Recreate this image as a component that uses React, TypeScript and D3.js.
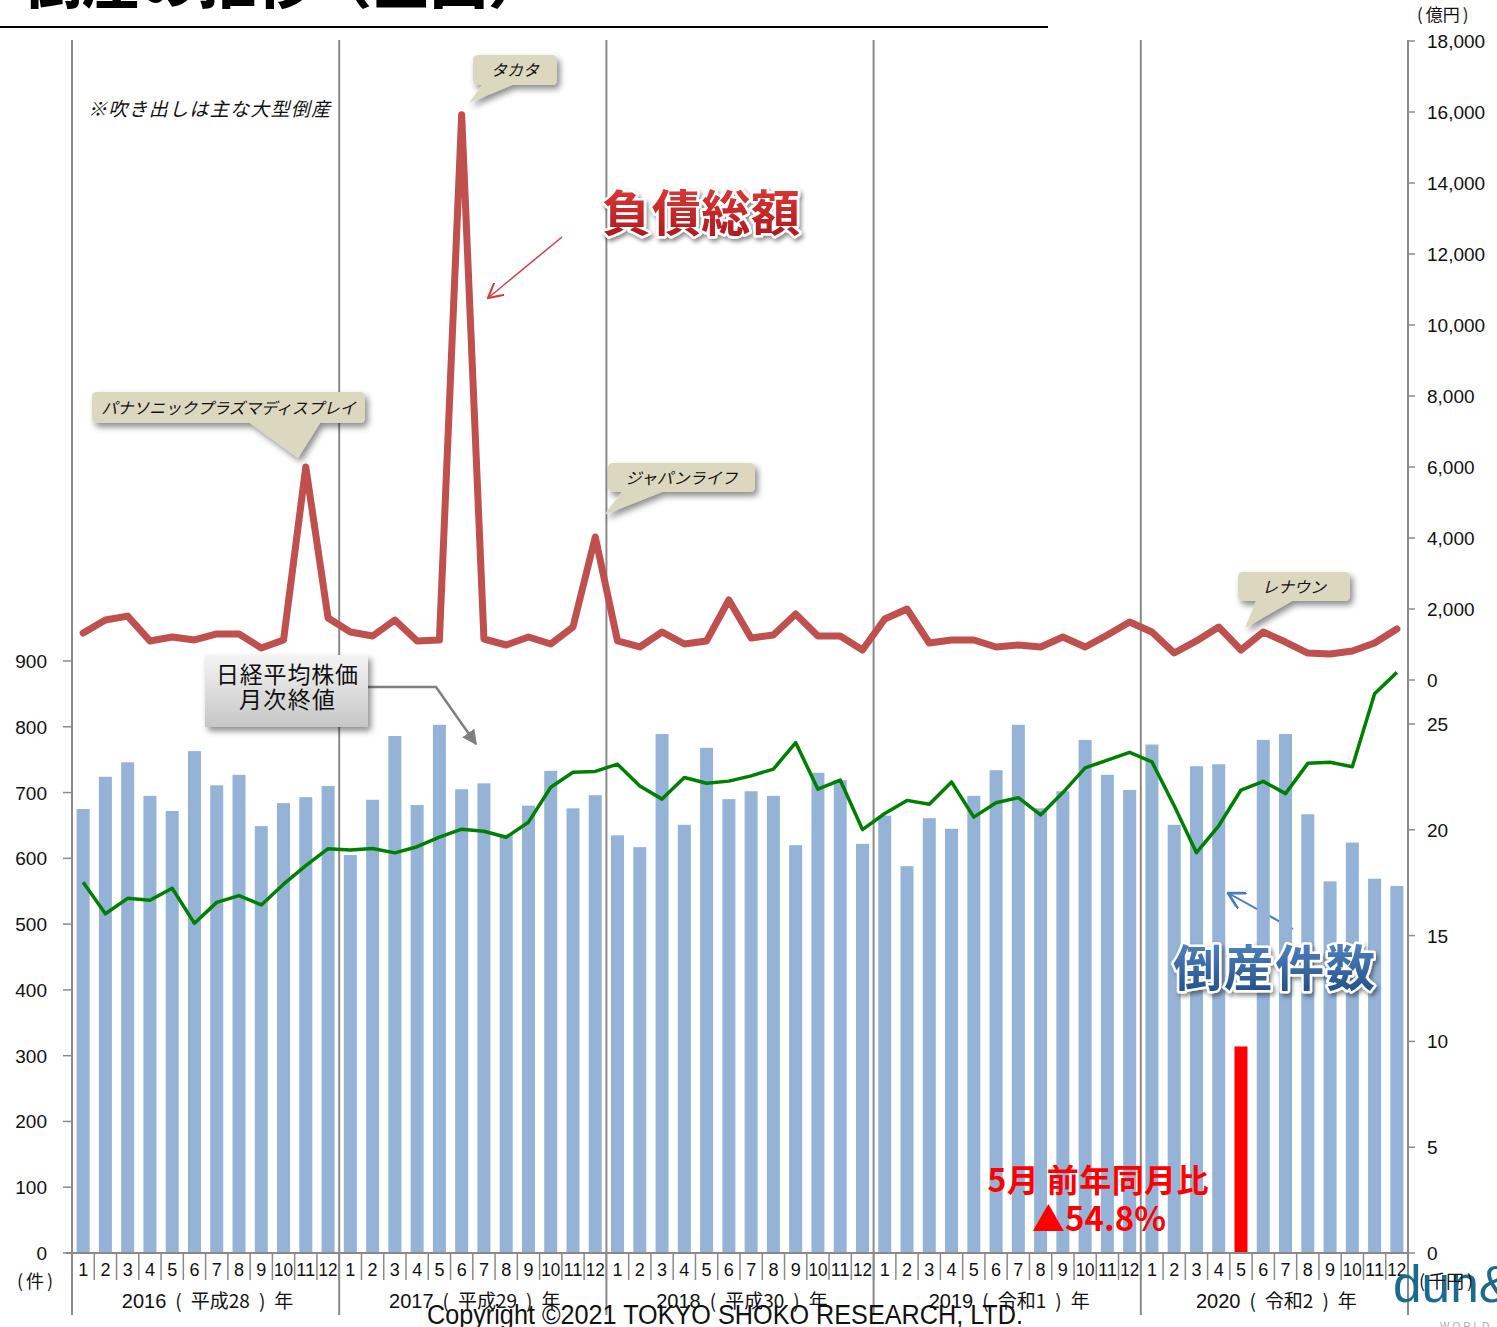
import React from "react";
import * as d3 from "d3";

// Monthly bankruptcy counts (件), 2016–2020
const counts2016 = [675, 724, 746, 695, 672, 763, 711, 727, 649, 684, 693, 710];
const counts2017 = [605, 689, 786, 681, 803, 705, 714, 636, 680, 733, 676, 696];
const counts2018 = [635, 617, 789, 651, 768, 690, 702, 695, 620, 730, 719, 622];
const counts2019 = [665, 588, 661, 645, 695, 734, 803, 676, 702, 780, 727, 704];
const counts2020 = [773, 651, 740, 743, 314, 780, 789, 667, 565, 624, 569, 558];

// Total liabilities (億円)
const debt2016 = [1324, 1690, 1800, 1100, 1211, 1127, 1296, 1296, 900, 1127, 6000, 1746];
const debt2017 = [1352, 1240, 1690, 1100, 1127, 15920, 1155, 986, 1211, 1014, 1493, 4028];
const debt2018 = [1100, 930, 1352, 1014, 1100, 2254, 1183, 1268, 1859, 1240, 1240, 845];
const debt2019 = [1718, 2000, 1042, 1127, 1127, 930, 986, 930, 1211, 930, 1268, 1634];
const debt2020 = [1352, 760, 1100, 1493, 845, 1352, 1070, 760, 732, 817, 1042, 1437];

// Nikkei 225 month-end close (千円)
const nikkei2016 = [17.52, 16.03, 16.76, 16.67, 17.24, 15.58, 16.57, 16.89, 16.45, 17.43, 18.31, 19.11];
const nikkei2017 = [19.04, 19.12, 18.91, 19.2, 19.65, 20.03, 19.93, 19.65, 20.36, 22.01, 22.72, 22.76];
const nikkei2018 = [23.1, 22.07, 21.45, 22.47, 22.2, 22.3, 22.55, 22.87, 24.12, 21.92, 22.35, 20.01];
const nikkei2019 = [20.77, 21.39, 21.21, 22.26, 20.6, 21.28, 21.52, 20.7, 21.76, 22.93, 23.29, 23.66];
const nikkei2020 = [23.21, 21.14, 18.92, 20.19, 21.88, 22.29, 21.71, 23.14, 23.19, 22.98, 26.43, 27.44];

// Year captions: western year and era name
const yearNumbers = ["2016", "2017", "2018", "2019", "2020"];
const eraNames = ["平成28", "平成29", "平成30", "令和1", "令和2"];
const monthLabels = ["1", "2", "3", "4", "5", "6", "7", "8", "9", "10", "11", "12"];

const countTicks = [0, 100, 200, 300, 400, 500, 600, 700, 800, 900];
const debtTicks = [0, 2000, 4000, 6000, 8000, 10000, 12000, 14000, 16000, 18000];
const nikkeiTicks = [0, 5, 10, 15, 20, 25];

const callouts = [
  { label: "パナソニックプラズマディスプレイ" },
  { label: "タカタ" },
  { label: "ジャパンライフ" },
  { label: "レナウン" },
];

const counts = [...counts2016, ...counts2017, ...counts2018, ...counts2019, ...counts2020];
const debt = [...debt2016, ...debt2017, ...debt2018, ...debt2019, ...debt2020];
const nikkei = [...nikkei2016, ...nikkei2017, ...nikkei2018, ...nikkei2019, ...nikkei2020];
const idx = counts.map((_, i) => i);

const W = 1497;
const H = 1327;
const L = 72;
const R = 1408;
const BASE = 1253;

const x = d3.scaleBand<number>().domain(idx).range([L, R]).paddingInner(0.416).paddingOuter(0.208);
const step = x.step();
const cx = (i: number) => (x(i) as number) + x.bandwidth() / 2;
const yCount = d3.scaleLinear().domain([0, 900]).range([BASE, 661]);
const yDebt = d3.scaleLinear().domain([0, 18000]).range([680, 41]);
const yNikkei = d3.scaleLinear().domain([0, 25]).range([BASE, 724]);

const debtLine = d3.line<number>().x((_, i) => cx(i)).y((d) => yDebt(d));
const nikkeiLine = d3.line<number>().x((_, i) => cx(i)).y((d) => yNikkei(d));

const jp = "'Noto Sans CJK JP', 'Noto Sans', sans-serif";
const sans = "'Liberation Sans', Arial, sans-serif";
const narrow = "'Liberation Sans Narrow', 'Liberation Sans', Arial, sans-serif";
const fmt = d3.format(",");

const yearX = (y: number) => L + step * 12 * y;

type Box = { x0: number; y0: number; x1: number; y1: number; b0: number; b1: number; tx: number; ty: number };

function Callout({ box, label }: { box: Box; label: string }) {
  const r = 5;
  const { x0, y0, x1, y1, b0, b1, tx, ty } = box;
  const d = `M${x0 + r},${y0} H${x1 - r} Q${x1},${y0} ${x1},${y0 + r} V${y1 - r} Q${x1},${y1} ${x1 - r},${y1} H${b1} L${tx},${ty} L${b0},${y1} H${x0 + r} Q${x0},${y1} ${x0},${y1 - r} V${y0 + r} Q${x0},${y0} ${x0 + r},${y0} Z`;
  return (
    <g>
      <path d={d} fill="#dcd8c0" filter="url(#shadow)" />
      <text
        x={(x0 + x1) / 2}
        y={(y0 + y1) / 2 + 6}
        textAnchor="middle"
        fontFamily={jp}
        fontStyle="italic"
        fontSize={16}
        fill="#111"
      >
        {label}
      </text>
    </g>
  );
}

// Parenthesised unit caption: "(" unit ")"
function Unit({ x0, y, unit, size }: { x0: number; y: number; unit: string; size: number }) {
  return (
    <text x={x0} y={y} fontFamily={jp} fontSize={size} fill="#111">
      <tspan>(</tspan>
      <tspan dx={3}>{unit}</tspan>
      <tspan dx={3}>)</tspan>
    </text>
  );
}

const boxes: Box[] = [
  { x0: 92, y0: 392, x1: 365, y1: 423, b0: 250, b1: 320, tx: 298, ty: 458 },
  { x0: 473, y0: 55, x1: 557, y1: 85, b0: 482, b1: 512, tx: 469, ty: 103 },
  { x0: 608, y0: 463, x1: 755, y1: 492, b0: 622, b1: 662, tx: 604, ty: 515 },
  { x0: 1238, y0: 572, x1: 1350, y1: 601, b0: 1256, b1: 1292, tx: 1245, ty: 628 },
];

export default function App() {
  return (
    <svg
      width={W}
      height={H}
      viewBox={`0 0 ${W} ${H}`}
      style={{ position: "absolute", left: 0, top: 0, background: "#fff" }}
    >
      <defs>
        <filter id="shadow" x="-20%" y="-20%" width="150%" height="170%">
          <feDropShadow dx="3" dy="4" stdDeviation="3" floodColor="#000" floodOpacity="0.45" />
        </filter>
        <filter id="textShadow" x="-10%" y="-20%" width="130%" height="160%">
          <feDropShadow dx="2" dy="3" stdDeviation="2" floodColor="#000" floodOpacity="0.45" />
        </filter>
        <linearGradient id="legendGrad" x1="0" y1="0" x2="0" y2="1">
          <stop offset="0" stopColor="#f4f4f4" />
          <stop offset="1" stopColor="#c6c6c6" />
        </linearGradient>
        <linearGradient id="redGrad" x1="0" y1="0" x2="0" y2="1">
          <stop offset="0" stopColor="#e8403c" />
          <stop offset="1" stopColor="#a8141a" />
        </linearGradient>
        <linearGradient id="blueGrad" x1="0" y1="0" x2="0" y2="1">
          <stop offset="0" stopColor="#5b8fce" />
          <stop offset="1" stopColor="#1d4a80" />
        </linearGradient>
        <marker id="grayHead" viewBox="0 0 10 10" refX="9" refY="5" markerWidth="6" markerHeight="6" orient="auto">
          <path d="M0,0 L10,5 L0,10 Z" fill="#7f7f7f" />
        </marker>
        <marker id="redHead" viewBox="0 0 12 12" refX="11" refY="6" markerWidth="16" markerHeight="16" markerUnits="userSpaceOnUse" orient="auto">
          <path d="M0,0 L11,6 L0,12" fill="none" stroke="#d04040" strokeWidth="1.6" />
        </marker>
        <marker id="blueHead" viewBox="0 0 12 12" refX="11" refY="6" markerWidth="18" markerHeight="18" markerUnits="userSpaceOnUse" orient="auto">
          <path d="M0,0 L11,6 L0,12" fill="none" stroke="#4a7ebb" strokeWidth="1.8" />
        </marker>
      </defs>

      {/* heading */}
      <text x={546} y={3} textAnchor="end" fontFamily={jp} fontWeight={900} fontSize={58} fill="#000">
        倒産の推移（全国）
      </text>
      <line x1={0} x2={1048} y1={27} y2={27} stroke="#000" strokeWidth={2} />

      {/* year separators */}
      {[0, 1, 2, 3, 4, 5].map((y) => (
        <line key={y} x1={yearX(y)} x2={yearX(y)} y1={40} y2={1315} stroke="#8a8a8a" strokeWidth={2} />
      ))}

      {/* arrow pointing at count bars (behind bars) */}
      <line x1={1293} y1={929} x2={1228} y2={893} stroke="#4a7ebb" strokeWidth={2} markerEnd="url(#blueHead)" />

      {/* bars */}
      {counts.map((v, i) => (
        <rect
          key={i}
          x={x(i)}
          y={yCount(v)}
          width={x.bandwidth()}
          height={BASE - yCount(v)}
          fill={i === 52 ? "#ff0000" : "#95b3d7"}
        />
      ))}

      {/* Nikkei line */}
      <path d={nikkeiLine(nikkei) || ""} fill="none" stroke="#008000" strokeWidth={3.5} strokeLinejoin="round" />

      {/* liabilities line */}
      <path d={debtLine(debt) || ""} fill="none" stroke="#c0504d" strokeWidth={7} strokeLinejoin="round" strokeLinecap="round" />

      {/* baseline and month ticks */}
      <line x1={66} x2={R} y1={BASE} y2={BASE} stroke="#8a8a8a" strokeWidth={2} />
      {d3.range(61).map((k) => (
        <line key={k} x1={L + step * k} x2={L + step * k} y1={BASE} y2={1280} stroke="#8a8a8a" strokeWidth={1.5} />
      ))}
      {idx.map((i) => (
        <text key={i} x={cx(i)} y={1276} textAnchor="middle" fontFamily={narrow} fontSize={18} fill="#111" textLength={i % 12 >= 9 ? 19 : undefined} lengthAdjust="spacingAndGlyphs">
          {monthLabels[i % 12]}
        </text>
      ))}
      {yearNumbers.map((yr, y) => (
        <text key={yr} x={yearX(y) + step * 6 + 2} y={1308} textAnchor="middle" fontFamily={jp} fontSize={19} fill="#111">
          <tspan fontFamily={narrow} fontSize={20}>{yr}</tspan>
          <tspan dx={9}>(</tspan>
          <tspan dx={9}>{eraNames[y]}</tspan>
          <tspan dx={9}>)</tspan>
          <tspan dx={9}>年</tspan>
        </text>
      ))}

      {/* left axis */}
      {countTicks.map((t) => (
        <g key={t}>
          <line x1={63} x2={L} y1={yCount(t)} y2={yCount(t)} stroke="#8a8a8a" strokeWidth={1.5} />
          <text x={47} y={yCount(t) + 7} textAnchor="end" fontFamily={sans} fontSize={19} fill="#111">
            {t}
          </text>
        </g>
      ))}
      <Unit x0={17} y={1288} unit="件" size={18} />

      {/* right axes */}
      {debtTicks.map((t) => (
        <g key={t}>
          <line x1={R} x2={R + 7} y1={yDebt(t)} y2={yDebt(t)} stroke="#8a8a8a" strokeWidth={1.5} />
          <text x={1427} y={yDebt(t) + 7} fontFamily={sans} fontSize={19} fill="#111">
            {fmt(t)}
          </text>
        </g>
      ))}
      {nikkeiTicks.map((t) => (
        <g key={t}>
          <line x1={R} x2={R + 7} y1={yNikkei(t)} y2={yNikkei(t)} stroke="#8a8a8a" strokeWidth={1.5} />
          <text x={1427} y={yNikkei(t) + 7} fontFamily={sans} fontSize={19} fill="#111">
            {t}
          </text>
        </g>
      ))}
      <Unit x0={1417} y={21} unit="億円" size={17} />

      {/* note */}
      <text x={88} y={116} fontFamily={jp} fontStyle="italic" fontSize={19} fill="#111" textLength={242} lengthAdjust="spacing">
        ※吹き出しは主な大型倒産
      </text>

      {/* callouts for major bankruptcies */}
      {callouts.map((c, i) => (
        <Callout key={c.label} box={boxes[i]} label={c.label} />
      ))}

      {/* Nikkei legend box */}
      <polyline points="368,687 436,687 476,744" fill="none" stroke="#7f7f7f" strokeWidth={2.5} markerEnd="url(#grayHead)" />
      <rect x={205} y={655} width={163} height={72} fill="url(#legendGrad)" filter="url(#shadow)" />
      <text x={287} y={683} textAnchor="middle" fontFamily={jp} fontSize={23} fill="#111" textLength={142} lengthAdjust="spacing">
        日経平均株価
      </text>
      <text x={287} y={708} textAnchor="middle" fontFamily={jp} fontSize={23} fill="#111" textLength={96} lengthAdjust="spacing">
        月次終値
      </text>

      {/* series titles */}
      <line x1={562} y1={237} x2={488} y2={298} stroke="#d04040" strokeWidth={1.5} markerEnd="url(#redHead)" />
      <text
        x={701}
        y={231}
        textAnchor="middle"
        fontFamily={jp}
        fontWeight={700}
        fontSize={49}
        fill="url(#redGrad)"
        stroke="#fff"
        strokeWidth={5}
        paintOrder="stroke"
        strokeLinejoin="round"
        filter="url(#textShadow)"
        textLength={198}
        lengthAdjust="spacing"
      >
        負債総額
      </text>
      <text
        x={1274}
        y={986}
        textAnchor="middle"
        fontFamily={jp}
        fontWeight={700}
        fontSize={49}
        fill="url(#blueGrad)"
        stroke="#fff"
        strokeWidth={5}
        paintOrder="stroke"
        strokeLinejoin="round"
        filter="url(#textShadow)"
        textLength={202}
        lengthAdjust="spacing"
      >
        倒産件数
      </text>

      {/* year-on-year note for May 2020 */}
      <text x={1098} y={1192} textAnchor="middle" fontFamily={jp} fontWeight={700} fontSize={32} fill="#ff0000" textLength={221} lengthAdjust="spacing">
        5月 前年同月比
      </text>
      <text x={1099} y={1231} textAnchor="middle" fontFamily={jp} fontWeight={700} fontSize={33} fill="#ff0000" textLength={134} lengthAdjust="spacing">
        ▲54.8%
      </text>

      {/* footer */}
      <text x={1393} y={1302} fontFamily={sans} fontSize={52} fill="#1b6b8c" textLength={120} lengthAdjust="spacingAndGlyphs">
        dun&amp;
      </text>
      <text x={1440} y={1330} fontFamily={sans} fontSize={10} fill="#aaa" letterSpacing={3}>
        WORLD
      </text>
      <Unit x0={1419} y={1288} unit="千円" size={18} />
      <text x={427} y={1324} fontFamily={narrow} fontSize={27} fill="#111" textLength={596} lengthAdjust="spacingAndGlyphs">
        Copyright ©2021 TOKYO SHOKO RESEARCH, LTD.
      </text>
    </svg>
  );
}
